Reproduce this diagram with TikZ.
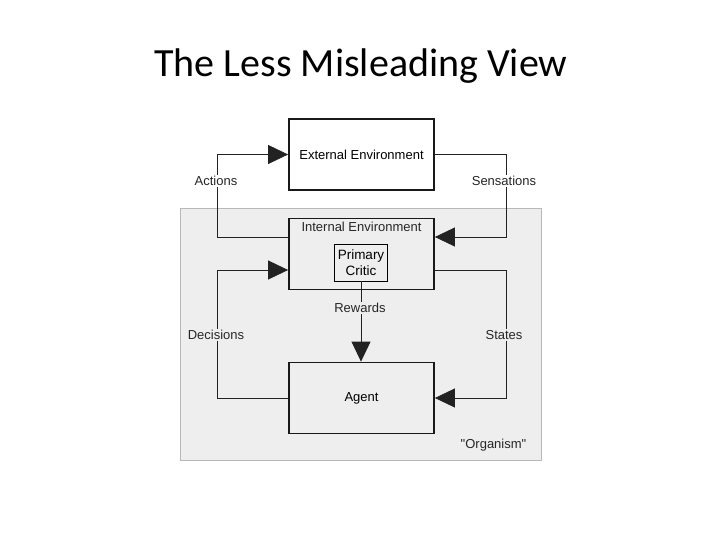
\documentclass[tikz,border=0pt]{standalone}
\usepackage{fontspec}
\setmainfont{Liberation Sans}
\newfontfamily\titlefont{Carlito}
\usetikzlibrary{arrows.meta}
\definecolor{bggray}{HTML}{EEEEEE}
\definecolor{bdgray}{HTML}{B8B8B8}
\definecolor{conncol}{HTML}{222222}
\tikzset{
  box/.style={draw=black!90, line width=1.8pt, minimum width=145pt, minimum height=71pt, inner sep=0pt},
  conn/.style={draw=conncol, line width=0.8pt, -{Triangle[length=20pt,width=19pt]}},
  lab/.style={font=\fontsize{13}{15}\selectfont, inner sep=1.5pt, text=black!85},
}
\begin{document}
\begin{tikzpicture}[x=1pt,y=-1pt]
\useasboundingbox (0,0) rectangle (720,540);
\fill[white] (0,0) rectangle (720,540);
\node[font=\titlefont\fontsize{40}{46}\selectfont] (title) at (361,66) {The Less Misleading View};
\draw[fill=bggray, draw=bdgray, line width=0.8pt] (180.5,208.5) rectangle (541.5,460.5);
\node[box, fill=white, font=\fontsize{13}{15}\selectfont] (ext) at (361.5,154.5) {External Environment};
\node[box, fill=bggray] (int) at (361.5,254) {};
\node[lab, anchor=north] (intlab) at (361.5,220.5) {Internal Environment};
\node[draw=black, line width=0.8pt, minimum width=53pt, minimum height=37pt, inner sep=0pt, align=center, font=\fontsize{13.5}{16}\selectfont] (critic) at (361,262.5) {Primary\\Critic};
\node[box, fill=bggray, font=\fontsize{13}{15}\selectfont] (agent) at (361.5,398) {Agent};
\node[lab, anchor=south east] (org) at (528,453) {\textquotedbl Organism\textquotedbl};
% connectors
\draw[conn] ([yshift=17pt]int.west) -- ++(-71,0) |- (ext.west);
\draw[conn] (ext.east) -- ++(71,0) |- ([yshift=17pt]int.east);
\draw[conn] (agent.west) -- ++(-71,0) |- ([yshift=-16pt]int.west);
\draw[conn] ([yshift=-16pt]int.east) -- ++(71,0) |- (agent.east);
\draw[conn] (critic.south) -- (critic.south |- agent.north);
% labels
\node[lab, fill=white] (actions) at (216,181) {Actions};
\node[lab, fill=white] (sens) at (504,181) {Sensations};
\node[lab, fill=bggray] (dec) at (216,335) {Decisions};
\node[lab, fill=bggray] (states) at (504,335) {States};
\node[lab, fill=bggray] (rew) at (360,308) {Rewards};
\end{tikzpicture}
\end{document}
